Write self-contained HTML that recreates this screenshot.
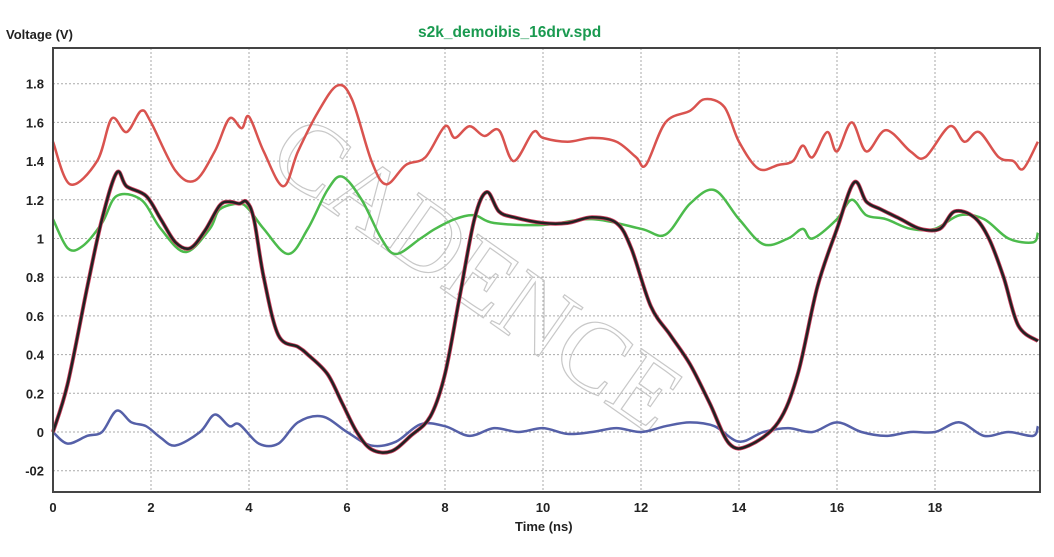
<!DOCTYPE html>
<html><head><meta charset="utf-8"><style>
body{margin:0;background:#fff}
svg{display:block;font-family:"Liberation Sans",sans-serif}
</style></head><body>
<svg id="s" width="1054" height="557" xmlns="http://www.w3.org/2000/svg">
<rect width="1054" height="557" fill="#fff"/>
<text x="418" y="37" fill="#1a9a50" font-size="15.5" font-weight="bold">s2k_demoibis_16drv.spd</text>
<text x="6" y="39" fill="#222" font-size="13" font-weight="bold">Voltage (V)</text>
<text x="515" y="531" fill="#222" font-size="13" font-weight="bold">Time (ns)</text>
<g id="grid"></g>
<text x="265" y="165" fill="none" stroke="#c8c8c8" stroke-width="1.2" font-family="Liberation Serif" font-size="100" transform="rotate(35 265 165)">CADENCE</text>
<g id="series" fill="none" stroke-linejoin="round"></g>
<rect x="53" y="48" width="987" height="444" fill="none" stroke="#444" stroke-width="2"/>
</svg>
<script>
var X=function(t){return 53+t*49}, Y=function(v){return 432-v*193.5};
var g=document.getElementById('grid'),h='';
for(var i=-1;i<=9;i++){var v=i*0.2,y=Y(v);h+='<line x1="53" x2="1040" y1="'+y+'" y2="'+y+'" stroke="#aaa" stroke-dasharray="2,2"/>';
 var l=i==-1?'-02':(i==0?'0':(i==5?'1':v.toFixed(1)));h+='<text x="44" y="'+(y+5)+'" text-anchor="end" font-size="13" font-weight="bold" fill="#222">'+l+'</text>';}
for(var t=0;t<=18;t+=2){var x=X(t);if(t>0)h+='<line y1="48" y2="492" x1="'+x+'" x2="'+x+'" stroke="#aaa" stroke-dasharray="2,2"/>';h+='<text x="'+x+'" y="512" text-anchor="middle" font-size="13" font-weight="bold" fill="#222">'+t+'</text>';}
g.innerHTML=h;
function path(p){var pts=[];for(var i=0;i<p.length;i+=2)pts.push([X(p[i]),Y(p[i+1])]);
 var d='M'+pts[0][0]+','+pts[0][1];
 for(var i=0;i<pts.length-1;i++){var p0=pts[i-1]||pts[i],p1=pts[i],p2=pts[i+1],p3=pts[i+2]||p2;
  d+='C'+(p1[0]+(p2[0]-p0[0])/6)+','+(p1[1]+(p2[1]-p0[1])/6)+' '+(p2[0]-(p3[0]-p1[0])/6)+','+(p2[1]-(p3[1]-p1[1])/6)+' '+p2[0]+','+p2[1];}
 return d;}
var red=[0,1.5,0.35,1.28,0.9,1.4,1.2,1.62,1.5,1.55,1.8,1.66,2.0,1.6,2.5,1.35,2.9,1.3,3.3,1.45,3.6,1.62,3.85,1.57,4.0,1.63,4.3,1.45,4.7,1.27,5.0,1.45,5.4,1.65,5.8,1.79,6.1,1.72,6.5,1.4,6.8,1.28,7.2,1.38,7.6,1.42,8.0,1.58,8.2,1.52,8.5,1.58,8.8,1.53,9.1,1.56,9.4,1.4,9.8,1.55,10.0,1.52,10.5,1.5,11.0,1.52,11.5,1.5,11.9,1.42,12.1,1.38,12.5,1.6,13.0,1.66,13.3,1.72,13.7,1.68,14.0,1.5,14.4,1.36,14.8,1.38,15.1,1.4,15.3,1.48,15.5,1.42,15.8,1.55,16.0,1.45,16.3,1.6,16.6,1.45,17.0,1.56,17.5,1.45,17.8,1.42,18.3,1.58,18.6,1.5,18.9,1.55,19.3,1.42,19.6,1.4,19.8,1.36,20.1,1.5];
var green=[0,1.1,0.3,0.95,0.6,0.96,1.0,1.08,1.3,1.22,1.8,1.2,2.2,1.05,2.7,0.93,3.2,1.05,3.4,1.15,3.8,1.18,4.0,1.15,4.3,1.05,4.8,0.92,5.2,1.05,5.6,1.25,5.9,1.32,6.3,1.2,6.7,1.0,7.0,0.92,7.5,1.0,7.8,1.05,8.2,1.1,8.6,1.12,9.0,1.08,10,1.07,11,1.1,12,1.05,12.5,1.02,13,1.18,13.5,1.25,14,1.1,14.5,0.97,15,1.0,15.3,1.05,15.5,1.0,16.0,1.1,16.3,1.2,16.6,1.12,17,1.1,17.5,1.05,18,1.05,18.5,1.12,19,1.1,19.5,1.0,20,0.98,20.1,1.03];
var main=[0,0,0.3,0.25,0.7,0.75,1.0,1.1,1.3,1.34,1.5,1.27,1.9,1.22,2.2,1.1,2.5,0.98,2.8,0.95,3.1,1.04,3.4,1.17,3.6,1.19,3.8,1.18,3.95,1.19,4.1,1.1,4.3,0.8,4.6,0.5,5.0,0.44,5.2,0.4,5.6,0.3,5.9,0.15,6.2,0.0,6.5,-0.09,6.9,-0.1,7.3,-0.02,7.7,0.08,8.0,0.3,8.3,0.7,8.6,1.1,8.85,1.24,9.1,1.14,9.4,1.11,10,1.08,10.5,1.08,11,1.11,11.5,1.08,11.8,0.95,12.2,0.65,12.6,0.5,13,0.35,13.4,0.15,13.8,-0.06,14.2,-0.07,14.8,0.05,15.2,0.3,15.6,0.75,16,1.05,16.35,1.29,16.6,1.19,16.9,1.15,17.3,1.1,17.7,1.05,18.1,1.05,18.4,1.14,18.8,1.11,19.1,1.0,19.4,0.8,19.7,0.55,20.1,0.47];
var blue=[0,0,0.3,-0.06,0.7,-0.02,1.0,0.0,1.3,0.11,1.6,0.05,1.9,0.03,2.2,-0.03,2.5,-0.07,3.0,0.0,3.3,0.09,3.6,0.03,3.8,0.04,4.2,-0.06,4.6,-0.06,5.0,0.05,5.5,0.08,6.0,0.0,6.5,-0.07,7.0,-0.05,7.5,0.04,8,0.03,8.5,-0.02,9,0.02,9.5,0.0,10,0.02,10.5,-0.01,11,0.0,11.5,0.02,12,0.0,12.5,0.03,13,0.05,13.5,0.03,14,-0.05,14.5,0.0,15,0.02,15.5,0.0,16,0.05,16.5,0.0,17,-0.02,17.5,0.0,18,0.0,18.5,0.05,19,-0.02,19.5,0.0,20,-0.02,20.1,0.03];
var s='';
s+='<path d="'+path(red)+'" stroke="#d9534f" stroke-width="2.5"/>';
s+='<path d="'+path(green)+'" stroke="#4cbb4c" stroke-width="2.5"/>';
s+='<path d="'+path(blue)+'" stroke="#5560a8" stroke-width="2.5"/>';
s+='<path d="'+path(main)+'" stroke="#d04060" stroke-width="4"/>';
s+='<path d="'+path(main)+'" stroke="#222" stroke-width="2.5"/>';
document.getElementById('series').innerHTML=s;
</script>
</body></html>
